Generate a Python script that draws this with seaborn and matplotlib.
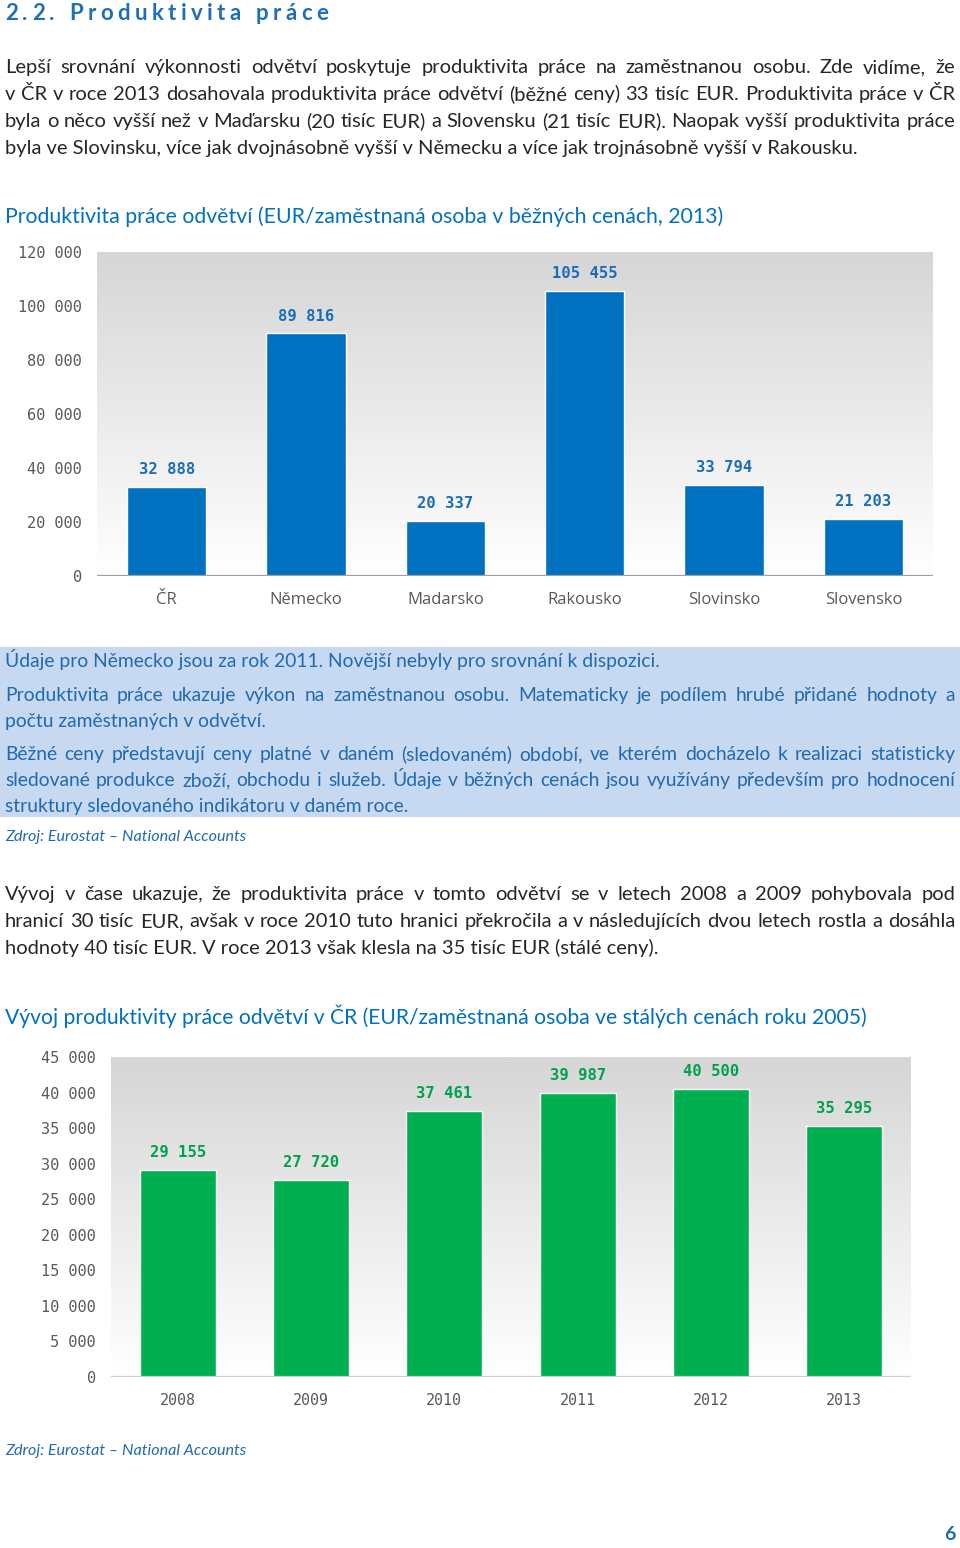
import numpy as np
import matplotlib
matplotlib.use("Agg")
import matplotlib.pyplot as plt
import seaborn as sns
from matplotlib.patches import Rectangle
from matplotlib.colors import LinearSegmentedColormap

# ===================== DATA =====================
countries = ["ČR", "Německo", "Madarsko", "Rakousko", "Slovinsko", "Slovensko"]
productivity_2013 = [32888, 89816, 20337, 105455, 33794, 21203]
ticks_2013 = [0, 20000, 40000, 60000, 80000, 100000, 120000]

years = ["2008", "2009", "2010", "2011", "2012", "2013"]
productivity_const = [29155, 27720, 37461, 39987, 40500, 35295]
ticks_const = [0, 5000, 10000, 15000, 20000, 25000, 30000, 35000, 40000, 45000]

heading = "2.2. Produktivita práce"
para1 = [
    "Lepší srovnání výkonnosti odvětví poskytuje produktivita práce na zaměstnanou osobu. Zde vidíme, že",
    "v ČR v roce 2013 dosahovala produktivita práce odvětví (běžné ceny) 33 tisíc EUR. Produktivita práce v ČR",
    "byla o něco vyšší než v Maďarsku (20 tisíc EUR) a Slovensku (21 tisíc EUR). Naopak vyšší produktivita práce",
    "byla ve Slovinsku, více jak dvojnásobně vyšší v Německu a více jak trojnásobně vyšší v Rakousku.",
]
title1 = "Produktivita práce odvětví (EUR/zaměstnaná osoba v běžných cenách, 2013)"
note_lines = [
    "Údaje pro Německo jsou za rok 2011. Novější nebyly pro srovnání k dispozici.",
    "Produktivita práce ukazuje výkon na zaměstnanou osobu. Matematicky je podílem hrubé přidané hodnoty a",
    "počtu zaměstnaných v odvětví.",
    "Běžné ceny představují ceny platné v daném (sledovaném) období, ve kterém docházelo k realizaci statisticky",
    "sledované produkce zboží, obchodu i služeb. Údaje v běžných cenách jsou využívány především pro hodnocení",
    "struktury sledovaného indikátoru v daném roce.",
]
note_justify = [False, True, False, True, True, False]
source = "Zdroj: Eurostat – National Accounts"
para2 = [
    "Vývoj v čase ukazuje, že produktivita práce v tomto odvětví se v letech 2008 a 2009 pohybovala pod",
    "hranicí 30 tisíc EUR, avšak v roce 2010 tuto hranici překročila a v následujících dvou letech rostla a dosáhla",
    "hodnoty 40 tisíc EUR. V roce 2013 však klesla na 35 tisíc EUR (stálé ceny).",
]
title2 = "Vývoj produktivity práce odvětví v ČR (EUR/zaměstnaná osoba ve stálých cenách roku 2005)"

# ===================== STYLE =====================
W, H, DPI = 960, 1548, 100
BLUE = "#0070C0"
GREEN = "#00B050"
NOTE = "#1F6AB0"
TEXT = "#262626"
TICK = "#595959"
MONO = "DejaVu Sans Mono"

sns.set_style("white")
plt.rcParams["font.family"] = ["Lato", "DejaVu Sans"]

fig = plt.figure(figsize=(W / DPI, H / DPI), dpi=DPI)
renderer = fig.canvas.get_renderer()


def fx(x):
    return x / W


def fy(y):
    return 1 - y / H


def text_width(s, **kw):
    t = fig.text(0, 0, s, **kw)
    w = t.get_window_extent(renderer).width
    t.remove()
    return w


def put_line(s, y, justify=False, x0=5, x1=955, **kw):
    if not justify:
        fig.text(fx(x0), fy(y), s, ha="left", va="baseline", **kw)
        return
    # justified line: spread the words over the full column width
    words = s.split(" ")
    widths = [text_width(w, **kw) for w in words]
    gap = (x1 - x0 - sum(widths)) / (len(words) - 1)
    x = x0
    for w, wd in zip(words, widths):
        fig.text(fx(x), fy(y), w, ha="left", va="baseline", **kw)
        x += wd + gap


# ----- heading with letter spacing -----
hkw = dict(fontsize=16, fontweight="bold", color="#1F6FB8")
space_w = text_width("x x", **hkw) - text_width("xx", **hkw)
char_w = [space_w if c == " " else text_width(c, **hkw) for c in heading]
track = (328 - 5 - sum(char_w)) / (len(heading) - 1)
x = 5
for c, cw in zip(heading, char_w):
    if c != " ":
        fig.text(fx(x), fy(20), c, ha="left", va="baseline", **hkw)
    x += cw + track

# ----- first paragraph -----
body = dict(fontsize=14.5, color=TEXT)
for i, line in enumerate(para1):
    put_line(line, 73 + 27 * i, justify=i < len(para1) - 1, **body)

fig.text(fx(5), fy(223), title1, ha="left", va="baseline", fontsize=15.3, color=BLUE)

# ----- note box -----
fig.patches.append(Rectangle((0, fy(817)), 1, (817 - 647) / H, transform=fig.transFigure,
                             facecolor="#C6D9F1", edgecolor="none", zorder=0))
note_y = [667, 701, 727, 760, 786, 812]
for line, y, j in zip(note_lines, note_y, note_justify):
    put_line(line, y, justify=j, fontsize=13.9, color=NOTE)
fig.text(fx(5), fy(841), source, ha="left", va="baseline", fontsize=11.6,
         style="italic", color=NOTE)

# ----- second paragraph -----
for i, line in enumerate(para2):
    put_line(line, 900 + 27 * i, justify=i < len(para2) - 1, **body)

fig.text(fx(5), fy(1024), title2, ha="left", va="baseline", fontsize=15.2, color=BLUE)
fig.text(fx(5), fy(1455), source, ha="left", va="baseline", fontsize=11.6,
         style="italic", color=NOTE)
fig.text(fx(950), fy(1540), "6", ha="center", va="baseline", fontsize=14,
         fontweight="bold", color=NOTE)

# ===================== CHARTS =====================
grad = LinearSegmentedColormap.from_list("grad", ["#FFFFFF", "#D6D6D6"])


def bar_chart(rect, cats, vals, ticks, color, label_color, base_color, xfont, xpad):
    ax = fig.add_axes(rect)
    ax.imshow(np.linspace(0, 1, 256).reshape(-1, 1), cmap=grad, extent=[0, 1, 0, 1],
              transform=ax.transAxes, aspect="auto", origin="lower", zorder=0)
    sns.barplot(x=cats, y=vals, color=color, saturation=1, width=0.57, ax=ax, zorder=2)
    ax.set_xlim(-0.5, len(cats) - 0.5)
    ax.set_ylim(0, ticks[-1])
    ax.set_yticks(ticks)
    ax.set_yticklabels([f"{t:,}".replace(",", " ") for t in ticks],
                       fontfamily=MONO, fontsize=11, color=TICK)
    ax.set_xticks(range(len(cats)))
    ax.set_xticklabels(cats, color=TICK, **xfont)
    ax.tick_params(axis="y", length=0, pad=11)
    ax.tick_params(axis="x", length=0, pad=xpad)
    for s in ax.spines.values():
        s.set_visible(False)
    ax.axhline(0, color=base_color, lw=1.6, zorder=3)
    for i, v in enumerate(vals):
        ax.annotate(f"{v:,}".replace(",", " "), (i, v), xytext=(0, 12.5), textcoords="offset points",
                    ha="center", va="center", fontfamily=MONO, fontsize=11.2,
                    fontweight="bold", color=label_color)
    return ax


bar_chart([fx(97), fy(576), 836 / W, 324 / H], countries, productivity_2013, ticks_2013,
          BLUE, "#1A6DB8", "#A0A0A0", dict(fontfamily="Open Sans", fontsize=12), 11.5)
bar_chart([fx(111), fy(1377), 800 / W, 320 / H], years, productivity_const, ticks_const,
          GREEN, "#00A14B", "#CFCFCF", dict(fontfamily=MONO, fontsize=10.8), 11.5)

fig.savefig("out.png", dpi=DPI)
